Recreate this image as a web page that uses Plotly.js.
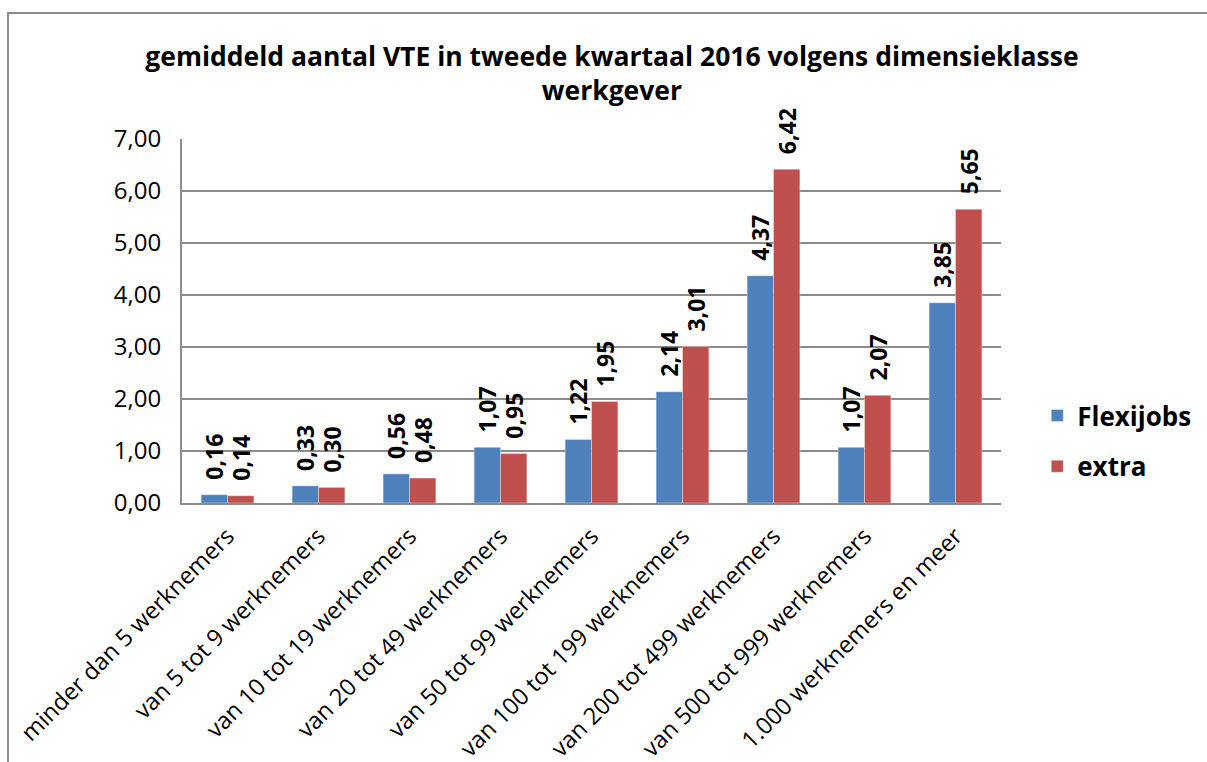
<!DOCTYPE html>
<html>
<head>
<meta charset="utf-8">
<script src="https://cdn.plot.ly/plotly-3.0.1.min.js"></script>
<style>
html,body{margin:0;padding:0;background:#fff;}
#wrap{position:relative;width:1207px;height:762px;}
#chart{position:absolute;left:0;top:0;width:1207px;height:762px;}
#frame{position:absolute;left:7px;top:12px;width:1210px;height:760px;border-left:2px solid #8c8c8c;border-top:2px solid #8c8c8c;pointer-events:none;}
</style>
</head>
<body>
<div id="wrap"><div id="chart"></div><div id="frame"></div></div>
<script>
const categories = [
  "minder dan 5 werknemers",
  "van 5 tot 9 werknemers",
  "van 10 tot 19 werknemers",
  "van 20 tot 49 werknemers",
  "van 50 tot 99 werknemers",
  "van 100 tot 199 werknemers",
  "van 200 tot 499 werknemers",
  "van 500 tot 999 werknemers",
  "1.000 werknemers en meer"
];
const flexijobs = [0.16, 0.33, 0.56, 1.07, 1.22, 2.14, 4.37, 1.07, 3.85];
const extra = [0.14, 0.30, 0.48, 0.95, 1.95, 3.01, 6.42, 2.07, 5.65];
const seriesNames = ["Flexijobs", "extra"];
const yTicks = [0, 1, 2, 3, 4, 5, 6, 7];

const FONT = "'Open Sans', Lato, sans-serif";
const labelFont = {family: FONT, size: 23, color: "#000", weight: "bold"};

function barTrace(name, vals, color, group) {
  return {
    type: "bar",
    name: name,
    x: categories,
    y: vals,
    marker: {color: color, line: {color: "rgba(255,255,255,0.35)", width: 1}},
    texttemplate: "\u00a0\u00a0%{y:.2f}",
    textposition: "outside",
    textangle: -90,
    textfont: labelFont,
    outsidetextfont: labelFont,
    constraintext: "none",
    cliponaxis: false,
    legendgroup: group,
    hoverinfo: "x+y"
  };
}

const data = [
  barTrace(seriesNames[0], flexijobs, "#4F81BD", "g1"),
  barTrace(seriesNames[1], extra, "#C0504D", "g2")
];

const layout = {
  width: 1207,
  height: 762,
  paper_bgcolor: "#ffffff",
  plot_bgcolor: "#ffffff",
  separators: ",.",
  margin: {l: 182, r: 205, t: 139, b: 259},
  barmode: "group",
  bargap: 0.42,
  bargroupgap: 0,
  font: {family: FONT, color: "#000"},
  title: {
    text: "gemiddeld aantal VTE in tweede kwartaal 2016 volgens dimensieklasse<br>werkgever",
    font: {family: FONT, size: 26.5, color: "#000", weight: "bold"},
    xref: "container", x: 0.507, xanchor: "center",
    yref: "container", y: 0.914, yanchor: "top"
  },
  xaxis: {
    type: "category",
    tickangle: -45,
    tickfont: {family: FONT, size: 23.5, color: "#000"},
    ticklabelstandoff: 8,
    showline: true, linecolor: "#8c8c8c", linewidth: 2,
    showgrid: false, ticks: "", fixedrange: true
  },
  yaxis: {
    range: [0, 7],
    tickvals: yTicks,
    tickformat: ".2f",
    tickfont: {family: FONT, size: 24, color: "#000"},
    ticklabelstandoff: 14,
    showline: true, linecolor: "#8c8c8c", linewidth: 2,
    showgrid: true, gridcolor: "#8c8c8c", gridwidth: 1.5,
    zeroline: false, ticks: "", ticklen: 0, fixedrange: true
  },
  showlegend: true,
  legend: {
    x: 1.043, xanchor: "left",
    y: 0.17, yanchor: "middle",
    font: {family: FONT, size: 26, color: "#000", weight: "bold"},
    traceorder: "grouped",
    tracegroupgap: 14,
    bgcolor: "rgba(0,0,0,0)"
  }
};

Plotly.newPlot("chart", data, layout, {displayModeBar: false, staticPlot: true});
</script>
</body>
</html>
